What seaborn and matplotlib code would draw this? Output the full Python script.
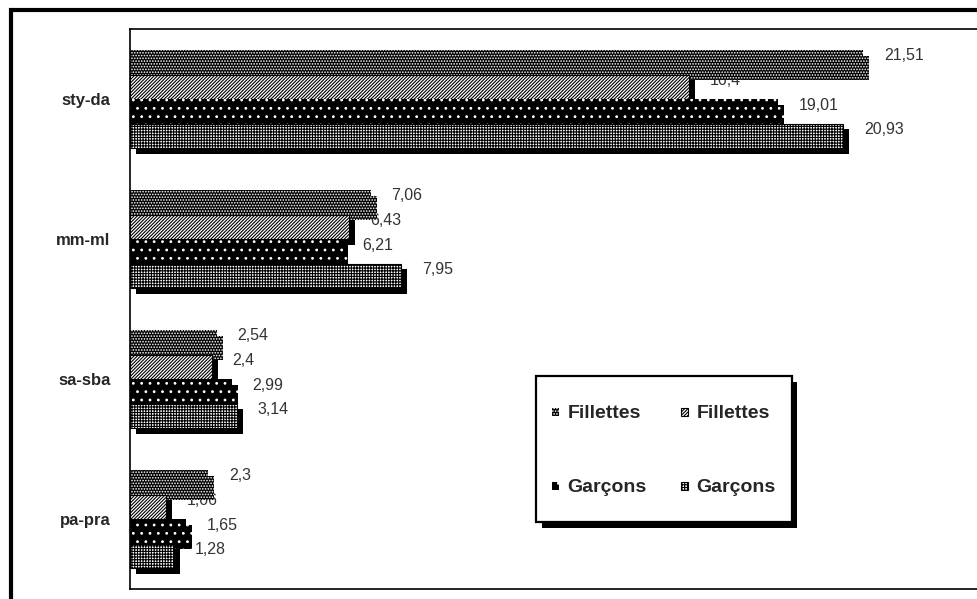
import matplotlib
matplotlib.use("Agg")
import matplotlib.pyplot as plt
import matplotlib.patheffects as pe
from matplotlib.patches import Rectangle, Patch
from matplotlib.legend_handler import HandlerPatch
import pandas as pd
import seaborn as sns

# Data
categories = ["sty-da", "mm-ml", "sa-sba", "pa-pra"]
series_keys = ["Fillettes (1)", "Fillettes (2)", "Garçons (1)", "Garçons (2)"]
legend_labels = ["Fillettes", "Fillettes", "Garçons", "Garçons"]
fillettes_1 = [21.51, 7.06, 2.54, 2.3]
fillettes_2 = [16.4, 6.43, 2.4, 1.06]
garcons_1 = [19.01, 6.21, 2.99, 1.65]
garcons_2 = [20.93, 7.95, 3.14, 1.28]

values = [fillettes_1, fillettes_2, garcons_1, garcons_2]
df = pd.DataFrame(
    [(c, s, v) for s, vals in zip(series_keys, values) for c, v in zip(categories, vals)],
    columns=["groupe", "serie", "valeur"],
)

sns.set_style("white")
plt.rcParams["font.family"] = ["Liberation Sans", "DejaVu Sans"]
plt.rcParams["hatch.linewidth"] = 0.8

# Black-and-white fill patterns for each series: (face, hatch colour, hatch, outline width)
styles = [
    ("black", "white", "......", 0.0),
    ("white", "black", "//////////", 0.8),
    ("black", "white", "..", 0.0),
    ("white", "black", "++++++", 0.8),
]

fig = plt.figure(figsize=(9.77, 5.99), dpi=100)
ax = fig.add_axes([130 / 977, 10 / 599, 852 / 977, 560 / 599])

sns.barplot(
    data=df, y="groupe", x="valeur", hue="serie", order=categories,
    hue_order=series_keys, orient="h", width=0.7, errorbar=None,
    palette=["black", "white", "black", "white"], legend=False, ax=ax,
)

shadow = [pe.SimplePatchShadow(offset=(4.3, -4.3), shadow_rgbFace="black", alpha=1.0), pe.Normal()]
for cont, (face, hcol, hatch, lw) in zip(ax.containers, styles):
    for bar in cont.patches:
        bar.set_facecolor(face)
        bar.set_edgecolor(hcol if lw == 0 else "black")
        bar.set_hatch(hatch)
        bar.set_linewidth(lw)
        bar.set_zorder(2)
        bar.set_path_effects(shadow)
    labels = ax.bar_label(
        cont, labels=[f"{v:g}".replace(".", ",") for v in cont.datavalues],
        padding=15, fontsize=11.5, color="#333333", zorder=1,
    )
    for t in labels:
        t.xyann = (15, 4.5)
        t.set_va("center")

ax.set_xlim(0, 25)
ax.set_xlabel("")
ax.set_ylabel("")
ax.set_xticks([])
ax.tick_params(axis="y", length=0, pad=14)
for lab in ax.get_yticklabels():
    lab.set_fontweight("bold")
    lab.set_fontsize(12)
for sp in ax.spines.values():
    sp.set_color("black")
    sp.set_linewidth(1.2)


def small_square(legend, orig_handle, xdescent, ydescent, width, height, fontsize):
    s = 0.38 * fontsize
    return Rectangle((-xdescent, -ydescent + (height - s) / 2), s, s)


handles = [Patch(facecolor=f, edgecolor=h if lw == 0 else "black", hatch=ht, linewidth=lw)
           for f, h, ht, lw in styles]
order = [0, 2, 1, 3]
leg = fig.legend(
    [handles[i] for i in order], [legend_labels[i] for i in order],
    ncol=2, loc="upper left", bbox_to_anchor=(536 / 977, 1 - 376 / 599),
    bbox_transform=fig.transFigure, borderaxespad=0, frameon=True, fancybox=False,
    framealpha=1, facecolor="white",
    prop={"weight": "bold", "size": 14},
    handlelength=0.45, handleheight=2.82, handletextpad=0.35, columnspacing=1.75,
    labelspacing=1.72, borderpad=0.82,
    handler_map={Patch: HandlerPatch(patch_func=small_square)},
)
frame = leg.get_frame()
frame.set_edgecolor("black")
frame.set_linewidth(1.6)
frame.set_path_effects([pe.SimplePatchShadow(offset=(4, -4), shadow_rgbFace="black", alpha=1.0), pe.Normal()])

# Outer chart frame
fig.add_artist(Rectangle((11 / 977, -0.05), 1.1, 1 - 9.5 / 599 + 0.05, transform=fig.transFigure,
                         fill=False, edgecolor="black", linewidth=3))

fig.savefig("out.png", dpi=100)
